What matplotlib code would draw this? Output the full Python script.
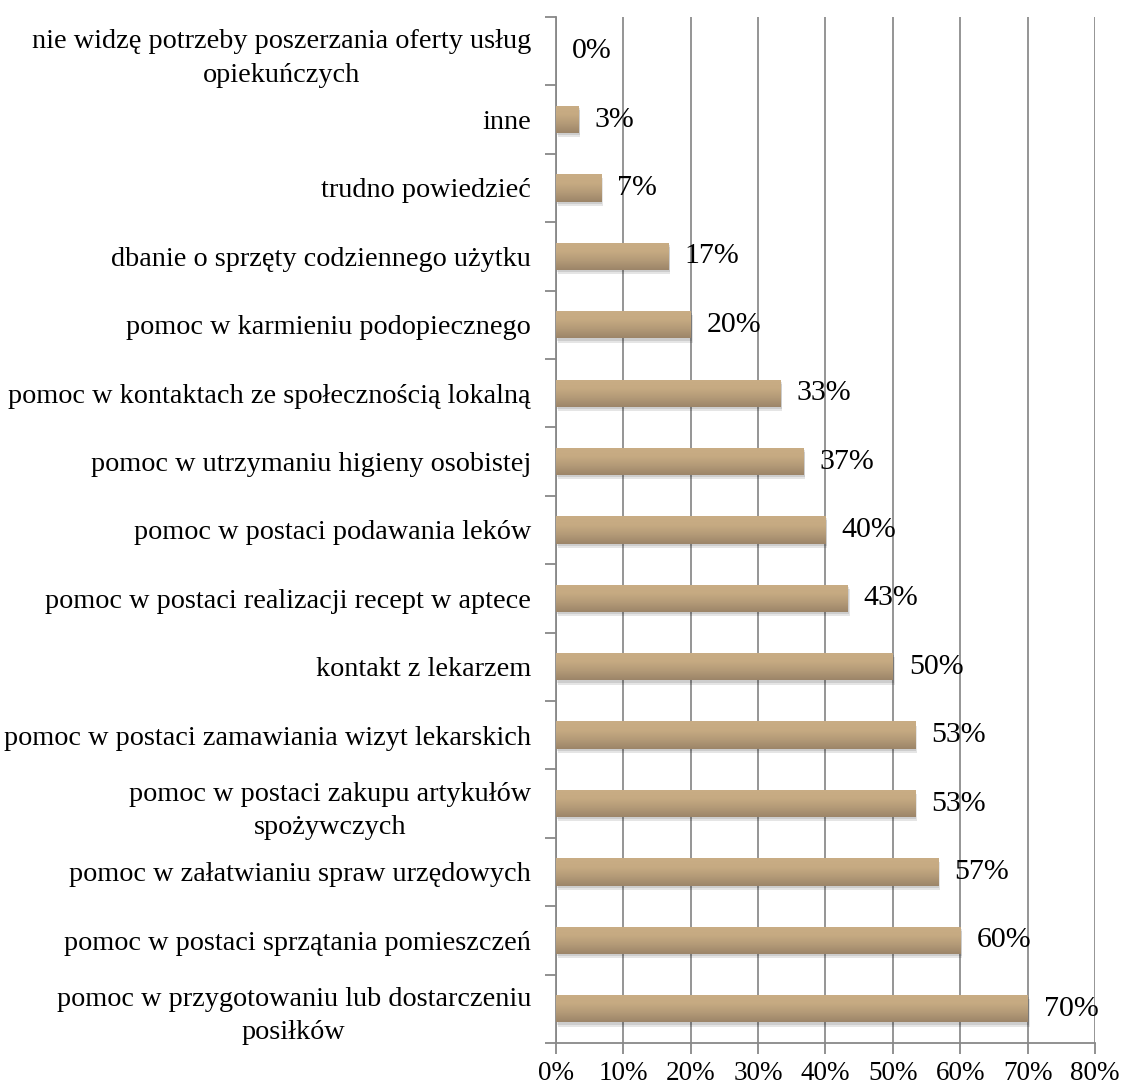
import matplotlib
matplotlib.use("Agg")
import matplotlib.pyplot as plt
import matplotlib.patheffects as pe
import numpy as np
from matplotlib.colors import LinearSegmentedColormap

categories = [
    "pomoc w przygotowaniu lub dostarczeniu\nposiłków",
    "pomoc w postaci sprzątania pomieszczeń",
    "pomoc w załatwianiu spraw urzędowych",
    "pomoc w postaci zakupu artykułów\nspożywczych",
    "pomoc w postaci zamawiania wizyt lekarskich",
    "kontakt z lekarzem",
    "pomoc w postaci realizacji recept w aptece",
    "pomoc w postaci podawania leków",
    "pomoc w utrzymaniu higieny osobistej",
    "pomoc w kontaktach ze społecznością lokalną",
    "pomoc w karmieniu podopiecznego",
    "dbanie o sprzęty codziennego użytku",
    "trudno powiedzieć",
    "inne",
    "nie widzę potrzeby poszerzania oferty usług\nopiekuńczych",
]
values = [70.0, 60.0, 56.7, 53.3, 53.3, 50.0, 43.3, 40.0, 36.7, 33.3, 20.0, 16.7, 6.7, 3.3, 0.0]
xticks = [0, 10, 20, 30, 40, 50, 60, 70, 80]
xticklabels = ["0%", "10%", "20%", "30%", "40%", "50%", "60%", "70%", "80%"]

plt.rcParams['font.family'] = ['Liberation Serif', 'DejaVu Serif']

fig = plt.figure(figsize=(11.23, 10.88), dpi=100)
ax = fig.add_axes([0.495, 0.0414, 0.975 - 0.495, (1088 - 17) / 1088 - 0.0414])

y = np.arange(len(categories))
bars = ax.barh(y, values, height=0.4, color="#b49a77", edgecolor="none", zorder=3)

cmap = LinearSegmentedColormap.from_list("g", ["#9c8569", "#b39a77", "#c6aa82", "#c9ad85"])
grad = np.linspace(0, 1, 64).reshape(-1, 1)
for b in bars:
    b.set_path_effects([
        pe.SimplePatchShadow(offset=(1.5, -3), shadow_rgbFace="#000000", alpha=0.10),
        pe.SimplePatchShadow(offset=(1, -1.5), shadow_rgbFace="#000000", alpha=0.10),
        pe.Normal()])
    x0, y0 = b.get_x(), b.get_y()
    w, h = b.get_width(), b.get_height()
    if w <= 0:
        continue
    im = ax.imshow(grad, cmap=cmap, aspect="auto", origin="lower",
                   extent=[x0, x0 + w, y0, y0 + h], zorder=4, interpolation="bilinear")
    im.set_clip_path(b)

for yi, v in zip(y, values):
    ax.text(v + 2.4, yi, f"{round(v):d}%", va="center", ha="left", fontsize=21.5, zorder=5)

ax.set_xlim(0, 80)
ax.set_ylim(-0.5, len(categories) - 0.5)
ax.set_xticks(xticks)
ax.set_xticklabels(xticklabels, fontsize=19.5)
ax.set_yticks(y)
ax.set_yticklabels(categories, fontsize=20.3, multialignment="center", linespacing=1.45)
ax.set_yticks(np.arange(-0.5, len(categories), 1.0), minor=True)
ax.tick_params(axis="y", which="major", length=0, pad=18)
ax.tick_params(axis="y", which="minor", length=8, color="#888888", width=1.3)
ax.tick_params(axis="x", which="major", length=8, color="#888888", width=1.3, pad=5)

ax.grid(axis="x", color="#8c8c8c", linewidth=1.3, zorder=0)
ax.set_axisbelow(True)
for s in ["top", "right"]:
    ax.spines[s].set_visible(False)
for s in ["left", "bottom"]:
    ax.spines[s].set_color("#888888")
    ax.spines[s].set_linewidth(1.3)

fig.savefig("out.png", dpi=100)
